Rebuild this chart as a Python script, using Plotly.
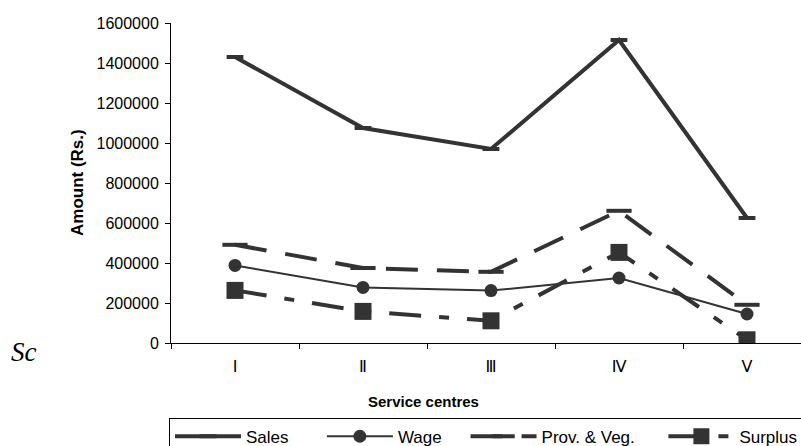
import plotly.graph_objects as go

# Service-centre performance, amounts in rupees
centres = ["Ⅰ", "Ⅱ", "Ⅲ", "Ⅳ", "Ⅴ"]
sales = [1430000, 1075000, 970000, 1515000, 625000]
wage = [388000, 278000, 262000, 325000, 145000]
prov_veg = [491000, 375000, 356000, 661000, 191000]
surplus = [263000, 158000, 111000, 453000, 16000]

y_ticks = list(range(0, 1600001, 200000))

INK = "#333333"
W, H = 801, 446
ML, MR, MT, MB = 171, 0, 23, 103
plot_w = W - ML - MR
plot_h = H - MT - MB
cat_px = 128  # width of one category slot
NBSP = "\u00a0"


def px_x(x):
    return (x - ML) / plot_w


def px_y(y):
    return (H - MB - y) / plot_h


def legend_label(text, pad):
    # trailing non-breaking spaces widen the gap before the next legend entry
    return text + NBSP * pad


fig = go.Figure()

fig.add_trace(go.Scatter(
    x=centres, y=sales, name=legend_label("Sales", 6), mode="lines+markers",
    line=dict(color=INK, width=4),
    marker=dict(symbol="line-ew", size=12, color=INK,
                line=dict(color=INK, width=4)),
))
fig.add_trace(go.Scatter(
    x=centres, y=wage, name=legend_label("Wage", 4), mode="lines+markers",
    line=dict(color=INK, width=2),
    marker=dict(symbol="circle", size=13, color=INK),
))
fig.add_trace(go.Scatter(
    x=centres, y=prov_veg, name=legend_label("Prov. & Veg.", 5), mode="lines+markers",
    line=dict(color=INK, width=4, dash="32px,19px"),
    marker=dict(symbol="line-ew", size=18, color=INK,
                line=dict(color=INK, width=4)),
))
fig.add_trace(go.Scatter(
    x=centres, y=surplus, name="Surplus", mode="lines+markers",
    line=dict(color=INK, width=4, dash="32px,18px,10px,18px"),
    marker=dict(symbol="square", size=17, color=INK),
))

fig.update_layout(
    width=W, height=H,
    margin=dict(l=ML, r=MR, t=MT, b=MB, autoexpand=False),
    paper_bgcolor="white", plot_bgcolor="white",
    font=dict(family="Liberation Sans, Arial, sans-serif", color="black"),
    showlegend=True,
    legend=dict(
        orientation="h",
        x=px_x(169), y=px_y(417.7), xanchor="left", yanchor="top",
        bordercolor="black", borderwidth=1,
        font=dict(size=17, color="black"),
        itemwidth=66,
    ),
    xaxis=dict(
        type="category",
        categoryorder="array", categoryarray=centres,
        range=[-0.5, -0.5 + plot_w / cat_px],
        tickson="boundaries",
        ticks="outside", ticklen=5, tickcolor="black",
        showline=True, linecolor="black", linewidth=1,
        showgrid=False, zeroline=False,
        tickfont=dict(family="DejaVu Sans, sans-serif", size=16, color="black"),
        ticklabelstandoff=9,
    ),
    yaxis=dict(
        range=[0, 1600000],
        tickvals=y_ticks, tickformat="d",
        ticks="outside", ticklen=5, tickcolor="black",
        showline=True, linecolor="black", linewidth=1,
        showgrid=False, zeroline=False,
        tickfont=dict(size=16, color="black"),
        ticklabelstandoff=3,
    ),
    annotations=[
        dict(text="<b>Amount (Rs.)</b>", textangle=-90,
             xref="paper", yref="paper", x=px_x(77), y=px_y(183),
             xanchor="center", yanchor="middle", showarrow=False,
             font=dict(size=17, color="black")),
        dict(text="<b>Service centres</b>",
             xref="paper", yref="paper", x=px_x(423), y=px_y(401),
             xanchor="center", yanchor="middle", showarrow=False,
             font=dict(size=15, color="black")),
        dict(text="<i>Sc</i>",
             xref="paper", yref="paper", x=px_x(9), y=px_y(352),
             xanchor="left", yanchor="middle", showarrow=False,
             font=dict(family="Liberation Serif, serif", size=27, color="black")),
    ],
)

fig.write_html("out.html")
